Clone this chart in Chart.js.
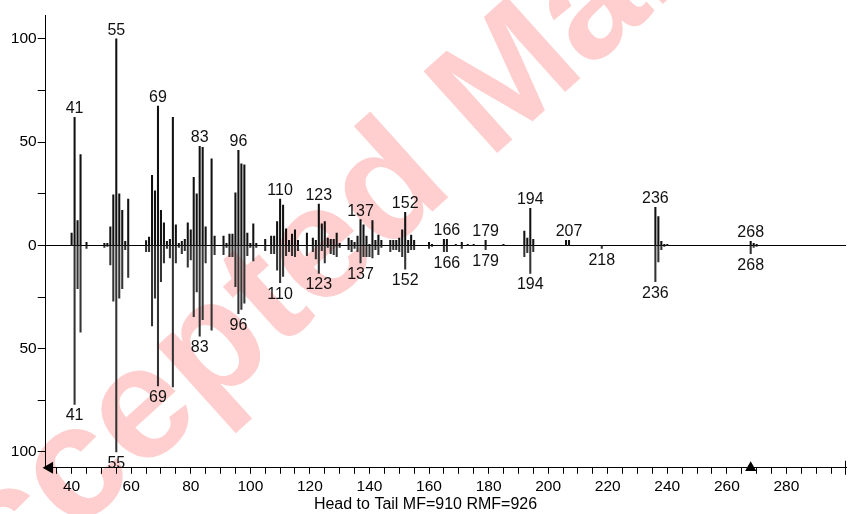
<!DOCTYPE html>
<html>
<head>
<meta charset="utf-8">
<script src="https://cdn.jsdelivr.net/npm/chart.js@4.4.1/dist/chart.umd.min.js"></script>
<style>
  html, body { margin: 0; padding: 0; background: #fff; }
</style>
</head>
<body>
<canvas id="spectrum" width="853" height="514"></canvas>
<script>
// m/z values and relative intensities (head = library hit, tail = unknown)
const masses = [40, 41, 42, 43, 45, 51, 52, 53, 54, 55, 56, 57, 58, 59,
  65, 66, 67, 68, 69, 70, 71, 72, 73, 74, 75, 76, 77, 78, 79, 80, 81, 82, 83, 84, 85, 87, 88,
  91, 92, 93, 94, 95, 96, 97, 98, 99, 100, 101, 102, 105, 107, 108, 109, 110, 111, 112, 113,
  114, 115, 116, 119, 121, 122, 123, 124, 125, 126, 127, 128, 129, 130, 133, 134, 135, 136,
  137, 138, 139, 140, 141, 142, 143, 144, 147, 148, 149, 150, 151, 152, 153, 154, 155, 160,
  161, 165, 166, 169, 171, 173, 175, 179, 185, 192, 193, 194, 195, 206, 207, 218, 236, 237,
  238, 239, 240, 268, 269, 270];
const headValues = [6, 62, 12, 44, 1.5, 1, 1, 9, 24.5, 100, 25, 17, 2, 22.5,
  2.4, 4, 34, 26.5, 67.5, 17, 11, 2, 3, 62, 10, 1, 2, 3, 11, 7.5, 33, 25, 48, 47.5, 9, 42, 4.5,
  4.5, 1, 5.5, 5.5, 25.5, 46, 39.5, 39, 6, 1, 10.5, 1, 3, 4.5, 4.5, 11.5, 22.5, 19.5, 8, 2.5,
  5.5, 7.5, 2.5, 6, 3.5, 2.5, 20, 10.5, 11.5, 3.5, 3, 3, 6, 1, 3.5, 2.5, 1.5, 4.5,
  12.5, 10, 4.5, 0.5, 12, 2.5, 5, 2.5, 2.5, 2.5, 2.5, 3.5, 7.5, 16, 2.5, 5, 2.5, 1.5,
  0.5, 3, 3, 0.5, 1.5, 0.5, 0.5, 2.5, 0.5, 7, 3.5, 18, 3, 2.5, 2.5, 0, 18.5, 14,
  2, 0.5, 0.5, 2, 1, 0.5];
const tailValues = [0, 77, 21, 42, 1.5, 1, 0.5, 9.5, 27, 100, 25.5, 21, 2, 15.5,
  3, 3, 39, 25.5, 68, 17.5, 8.5, 1.5, 6, 68.5, 8.5, 1, 4, 2.5, 10.5, 7, 34.5, 22.5, 44, 36, 8.5, 41, 4.5,
  4.5, 1, 5.5, 5.5, 20, 33, 31, 28, 5, 1, 7.5, 1, 2.5, 4, 4, 12, 18, 15, 5, 3,
  5, 5.5, 2.5, 5, 3, 6.5, 13.5, 2.5, 8.5, 1, 4, 4.5, 5.5, 1, 2, 3, 1.5, 3,
  8.5, 5.5, 5.5, 5.5, 6, 2, 4.5, 1, 3, 2, 2, 3, 5.5, 11.5, 3.5, 2, 2, 1.5,
  0.5, 3, 3, 0, 1.5, 0, 0, 2, 0, 5.5, 3.5, 13.5, 3, 0, 0, 1.5, 17.5, 8,
  2, 0.5, 0, 4, 1, 0.5];

// peaks that carry an m/z label
const headLabels = [41, 55, 69, 83, 96, 110, 123, 137, 152, 166, 179, 194, 207, 236, 268];
const tailLabels = [41, 55, 69, 83, 96, 110, 123, 137, 152, 166, 179, 194, 218, 236, 268];

const xTickLabels = [40, 60, 80, 100, 120, 140, 160, 180, 200, 220, 240, 260, 280];
const yTickLabels = [0, 50, 100];
const titleText = 'Head to Tail MF=910 RMF=926';
const molecularIon = 268;

const X_MIN = 31.3, X_MAX = 300;
const Y_MIN = -107.7, Y_MAX = 111.6;
const FONT = "'Liberation Sans', Arial, sans-serif";

Chart.defaults.font.family = FONT;
Chart.defaults.color = '#000';

const watermark = {
  id: 'watermark',
  beforeDraw(chart) {
    const ctx = chart.ctx;
    ctx.save();
    ctx.translate(-79, 672);
    ctx.rotate(-42 * Math.PI / 180);
    ctx.font = "bold 160px " + FONT;
    ctx.fillStyle = 'rgba(255, 60, 60, 0.25)';
    ctx.textBaseline = 'alphabetic';
    ctx.fillText('Accepted Manuscript', 0, 0);
    ctx.restore();
  }
};

const peakLabels = {
  id: 'peakLabels',
  afterDatasetsDraw(chart) {
    const ctx = chart.ctx;
    const xs = chart.scales.x, ys = chart.scales.y;
    ctx.save();
    ctx.font = "16px " + FONT;
    ctx.fillStyle = '#111';
    ctx.textAlign = 'center';
    ctx.textBaseline = 'alphabetic';
    headLabels.forEach(m => {
      const v = headValues[masses.indexOf(m)];
      ctx.fillText(String(m), xs.getPixelForValue(m), ys.getPixelForValue(v) - 4);
    });
    tailLabels.forEach(m => {
      const v = tailValues[masses.indexOf(m)];
      ctx.fillText(String(m), xs.getPixelForValue(m), ys.getPixelForValue(-v) + 16);
    });
    // short end bar at the right end of the m/z axis
    const area = chart.chartArea;
    ctx.strokeStyle = '#000';
    ctx.lineWidth = 1;
    ctx.beginPath();
    ctx.moveTo(Math.round(area.right) - 0.5, area.bottom - 7);
    ctx.lineTo(Math.round(area.right) - 0.5, area.bottom + 7);
    ctx.stroke();
    ctx.restore();
  }
};

function buildChart() {
  const ctx = document.getElementById('spectrum');
  new Chart(ctx, {
    type: 'bar',
    data: {
      datasets: [
        {
          label: 'head',
          data: masses.map((m, i) => ({ x: m, y: headValues[i] })),
          backgroundColor: '#111',
          barThickness: 1.4,
          grouped: false
        },
        {
          label: 'tail',
          data: masses.map((m, i) => ({ x: m, y: -tailValues[i] })),
          backgroundColor: '#333',
          barThickness: 1.4,
          grouped: false
        },
        {
          type: 'scatter',
          label: 'start',
          data: [{ x: X_MIN + 1.3, y: Y_MIN }],
          pointStyle: 'triangle',
          rotation: -90,
          radius: 7,
          backgroundColor: '#000',
          borderColor: '#000',
          borderWidth: 0,
          clip: false
        },
        {
          type: 'scatter',
          label: 'molecular ion',
          data: [{ x: molecularIon, y: Y_MIN }],
          pointStyle: 'triangle',
          radius: 6.5,
          backgroundColor: '#000',
          borderColor: '#000',
          borderWidth: 0,
          clip: false
        }
      ]
    },
    options: {
      responsive: false,
      animation: false,
      layout: { padding: { top: 15, right: 2, left: 0, bottom: 0 } },
      plugins: {
        legend: { display: false },
        tooltip: { enabled: false },
        title: {
          display: true,
          text: titleText,
          position: 'bottom',
          color: '#000',
          font: { family: FONT, size: 16, weight: 'normal' },
          padding: { top: 2, bottom: 0 }
        }
      },
      scales: {
        x: {
          type: 'linear',
          min: X_MIN,
          max: X_MAX,
          offset: false,
          grid: { drawOnChartArea: false, tickLength: 6, color: '#000', offset: false },
          border: { display: true, color: '#000', width: 1 },
          ticks: {
            autoSkip: false,
            maxRotation: 0,
            padding: 4,
            color: '#000',
            font: { size: 15.5 },
            callback: v => xTickLabels.includes(v) ? String(v) : ''
          },
          afterBuildTicks: s => {
            s.ticks = [];
            for (let v = 35; v <= 295; v += 5) s.ticks.push({ value: v });
          },
          afterFit: s => { s.height = 25; }
        },
        y: {
          min: Y_MIN,
          max: Y_MAX,
          grid: {
            color: c => (c.tick && c.tick.value === 0) ? '#000' : 'rgba(0,0,0,0)',
            tickColor: '#000',
            tickLength: 8
          },
          border: { display: true, color: '#000', width: 1 },
          ticks: {
            padding: 1,
            color: '#000',
            font: { size: 15.5 },
            callback: v => yTickLabels.includes(Math.abs(v)) ? String(Math.abs(v)) : ''
          },
          afterBuildTicks: s => {
            s.ticks = [-100, -75, -50, -25, 0, 25, 50, 75, 100].map(v => ({ value: v }));
          },
          afterFit: s => { s.width = 45.7; }
        }
      }
    },
    plugins: [watermark, peakLabels]
  });
}

window.addEventListener('load', buildChart);
</script>
</body>
</html>
